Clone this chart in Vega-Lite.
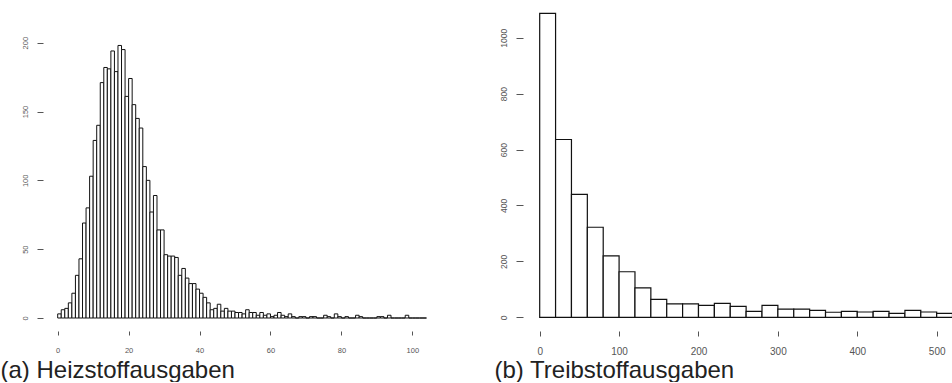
{
  "$schema": "https://vega.github.io/schema/vega-lite/v6.json",
  "padding": {"left": 0, "top": 5, "right": 0, "bottom": 0},
  "bounds": "flush",
  "spacing": 93,
  "background": "white",
  "config": {
    "view": {"stroke": null},
    "axis": {"domain": false, "grid": false, "labelFont": "Liberation Sans", "labelColor": "#555", "tickColor": "#555", "titleFont": "Liberation Sans", "titleFontWeight": "normal", "titleColor": "#222", "titleFontSize": 24, "titleAlign": "left", "titleBaseline": "middle", "titleAnchor": null, "format": "d"}
  },
  "datasets": {
    "heiz": [
      {"lo":0,"hi":1,"n":3},{"lo":1,"hi":2,"n":6},{"lo":2,"hi":3,"n":7},{"lo":3,"hi":4,"n":11},{"lo":4,"hi":5,"n":18},
      {"lo":5,"hi":6,"n":31},{"lo":6,"hi":7,"n":43},{"lo":7,"hi":8,"n":69},{"lo":8,"hi":9,"n":80},{"lo":9,"hi":10,"n":103},
      {"lo":10,"hi":11,"n":129},{"lo":11,"hi":12,"n":140},{"lo":12,"hi":13,"n":171},{"lo":13,"hi":14,"n":182},{"lo":14,"hi":15,"n":181},
      {"lo":15,"hi":16,"n":194},{"lo":16,"hi":17,"n":179},{"lo":17,"hi":18,"n":198},{"lo":18,"hi":19,"n":195},{"lo":19,"hi":20,"n":161},
      {"lo":20,"hi":21,"n":174},{"lo":21,"hi":22,"n":155},{"lo":22,"hi":23,"n":145},{"lo":23,"hi":24,"n":138},{"lo":24,"hi":25,"n":110},
      {"lo":25,"hi":26,"n":100},{"lo":26,"hi":27,"n":77},{"lo":27,"hi":28,"n":89},{"lo":28,"hi":29,"n":64},{"lo":29,"hi":30,"n":64},
      {"lo":30,"hi":31,"n":46},{"lo":31,"hi":32,"n":45},{"lo":32,"hi":33,"n":45},{"lo":33,"hi":34,"n":44},{"lo":34,"hi":35,"n":31},
      {"lo":35,"hi":36,"n":36},{"lo":36,"hi":37,"n":29},{"lo":37,"hi":38,"n":25},{"lo":38,"hi":39,"n":25},{"lo":39,"hi":40,"n":21},
      {"lo":40,"hi":41,"n":18},{"lo":41,"hi":42,"n":15},{"lo":42,"hi":43,"n":11},{"lo":43,"hi":44,"n":6},{"lo":44,"hi":45,"n":7},
      {"lo":45,"hi":46,"n":10},{"lo":46,"hi":47,"n":5},{"lo":47,"hi":48,"n":7},{"lo":48,"hi":49,"n":5},{"lo":49,"hi":50,"n":5},
      {"lo":50,"hi":51,"n":4},{"lo":51,"hi":52,"n":4},{"lo":52,"hi":53,"n":3},{"lo":53,"hi":54,"n":6},{"lo":54,"hi":55,"n":4},
      {"lo":55,"hi":56,"n":4},{"lo":56,"hi":57,"n":2},{"lo":57,"hi":58,"n":4},{"lo":58,"hi":59,"n":2},{"lo":59,"hi":60,"n":3},
      {"lo":60,"hi":61,"n":1},{"lo":61,"hi":62,"n":2},{"lo":62,"hi":63,"n":4},{"lo":63,"hi":64,"n":2},{"lo":64,"hi":65,"n":1},
      {"lo":65,"hi":66,"n":3},{"lo":66,"hi":67,"n":1},{"lo":67,"hi":68,"n":0},{"lo":68,"hi":69,"n":1},{"lo":69,"hi":70,"n":1},
      {"lo":70,"hi":71,"n":0},{"lo":71,"hi":72,"n":1},{"lo":72,"hi":73,"n":1},{"lo":73,"hi":74,"n":0},{"lo":74,"hi":75,"n":0},
      {"lo":75,"hi":76,"n":2},{"lo":76,"hi":77,"n":1},{"lo":77,"hi":78,"n":0},{"lo":78,"hi":79,"n":3},{"lo":79,"hi":80,"n":1},
      {"lo":80,"hi":81,"n":0},{"lo":81,"hi":82,"n":1},{"lo":82,"hi":83,"n":0},{"lo":83,"hi":84,"n":0},{"lo":84,"hi":85,"n":2},
      {"lo":85,"hi":86,"n":1},{"lo":86,"hi":87,"n":0},{"lo":87,"hi":88,"n":0},{"lo":88,"hi":89,"n":0},{"lo":89,"hi":90,"n":0},
      {"lo":90,"hi":91,"n":1},{"lo":91,"hi":92,"n":1},{"lo":92,"hi":93,"n":0},{"lo":93,"hi":94,"n":2},{"lo":94,"hi":95,"n":0},
      {"lo":95,"hi":96,"n":0},{"lo":96,"hi":97,"n":0},{"lo":97,"hi":98,"n":0},{"lo":98,"hi":99,"n":2},{"lo":99,"hi":100,"n":0},
      {"lo":100,"hi":101,"n":0},{"lo":101,"hi":102,"n":0},{"lo":102,"hi":103,"n":0},{"lo":103,"hi":104,"n":0}
    ],
    "treib": [
      {"lo":0,"hi":20,"n":1087},{"lo":20,"hi":40,"n":636},{"lo":40,"hi":60,"n":440},{"lo":60,"hi":80,"n":322},
      {"lo":80,"hi":100,"n":220},{"lo":100,"hi":120,"n":163},{"lo":120,"hi":140,"n":105},{"lo":140,"hi":160,"n":64},
      {"lo":160,"hi":180,"n":48},{"lo":180,"hi":200,"n":48},{"lo":200,"hi":220,"n":43},{"lo":220,"hi":240,"n":50},
      {"lo":240,"hi":260,"n":39},{"lo":260,"hi":280,"n":21},{"lo":280,"hi":300,"n":43},{"lo":300,"hi":320,"n":29},
      {"lo":320,"hi":340,"n":29},{"lo":340,"hi":360,"n":25},{"lo":360,"hi":380,"n":18},{"lo":380,"hi":400,"n":21},
      {"lo":400,"hi":420,"n":19},{"lo":420,"hi":440,"n":21},{"lo":440,"hi":460,"n":14},{"lo":460,"hi":480,"n":25},
      {"lo":480,"hi":500,"n":19},{"lo":500,"hi":520,"n":14},{"lo":520,"hi":540,"n":12}
    ]
  },
  "hconcat": [
    {
      "width": 387,
      "height": 326,
      "layer": [
        {
          "data": {"name": "heiz"},
          "mark": {"type": "rect", "fill": "white", "stroke": "#111", "strokeWidth": 1, "clip": true},
          "encoding": {
            "x": {"field": "lo", "type": "quantitative", "scale": {"domain": [-4.145, 104.99], "nice": false, "zero": false},
              "axis": {"values": [0, 20, 40, 60, 80, 100], "tickSize": 4, "labelFontSize": 7.5, "labelPadding": 11, "labelBaseline": "top", "title": "(a) Heizstoffausgaben", "titleX": -43, "titleY": 39}},
            "x2": {"field": "hi"},
            "y": {"field": "n", "type": "quantitative", "scale": {"domain": [-9.44, 227.39], "nice": false, "zero": false},
              "axis": {"values": [0, 50, 100, 150, 200], "tickSize": 6, "labelFontSize": 7.5, "labelAngle": 270, "labelAlign": "center", "labelBaseline": "middle", "labelPadding": 12, "title": null}},
            "y2": {"datum": 0}
          }
        },
        {
          "mark": {"type": "rule", "color": "#555", "strokeWidth": 1},
          "encoding": {"x": {"datum": 0, "type": "quantitative"}, "x2": {"datum": 100}, "y": {"datum": -9.44, "type": "quantitative"}}
        },
        {
          "mark": {"type": "rule", "color": "#555", "strokeWidth": 1},
          "encoding": {"x": {"datum": -4.145, "type": "quantitative"}, "y": {"datum": 0, "type": "quantitative"}, "y2": {"datum": 200}}
        }
      ]
    },
    {
      "width": 429,
      "height": 326,
      "layer": [
        {
          "data": {"name": "treib"},
          "mark": {"type": "rect", "fill": "white", "stroke": "#111", "strokeWidth": 1.2, "clip": true},
          "encoding": {
            "x": {"field": "lo", "type": "quantitative", "scale": {"domain": [-21.03, 519.3], "nice": false, "zero": false},
              "axis": {"values": [0, 100, 200, 300, 400, 500], "tickSize": 5, "labelFontSize": 10, "labelPadding": 10, "labelBaseline": "top", "title": "(b) Treibstoffausgaben", "titleX": -29, "titleY": 39}},
            "x2": {"field": "hi"},
            "y": {"field": "n", "type": "quantitative", "scale": {"domain": [-49, 1117], "nice": false, "zero": false},
              "axis": {"values": [0, 200, 400, 600, 800, 1000], "tickSize": 7, "labelFontSize": 8.5, "labelAngle": 270, "labelAlign": "center", "labelBaseline": "middle", "labelPadding": 12.7, "title": null}},
            "y2": {"datum": 0}
          }
        },
        {
          "mark": {"type": "rule", "color": "#555", "strokeWidth": 1},
          "encoding": {"x": {"datum": 0, "type": "quantitative"}, "x2": {"datum": 500}, "y": {"datum": -49, "type": "quantitative"}}
        },
        {
          "mark": {"type": "rule", "color": "#555", "strokeWidth": 1},
          "encoding": {"x": {"datum": -21.03, "type": "quantitative"}, "y": {"datum": 0, "type": "quantitative"}, "y2": {"datum": 1000}}
        }
      ]
    }
  ]
}
